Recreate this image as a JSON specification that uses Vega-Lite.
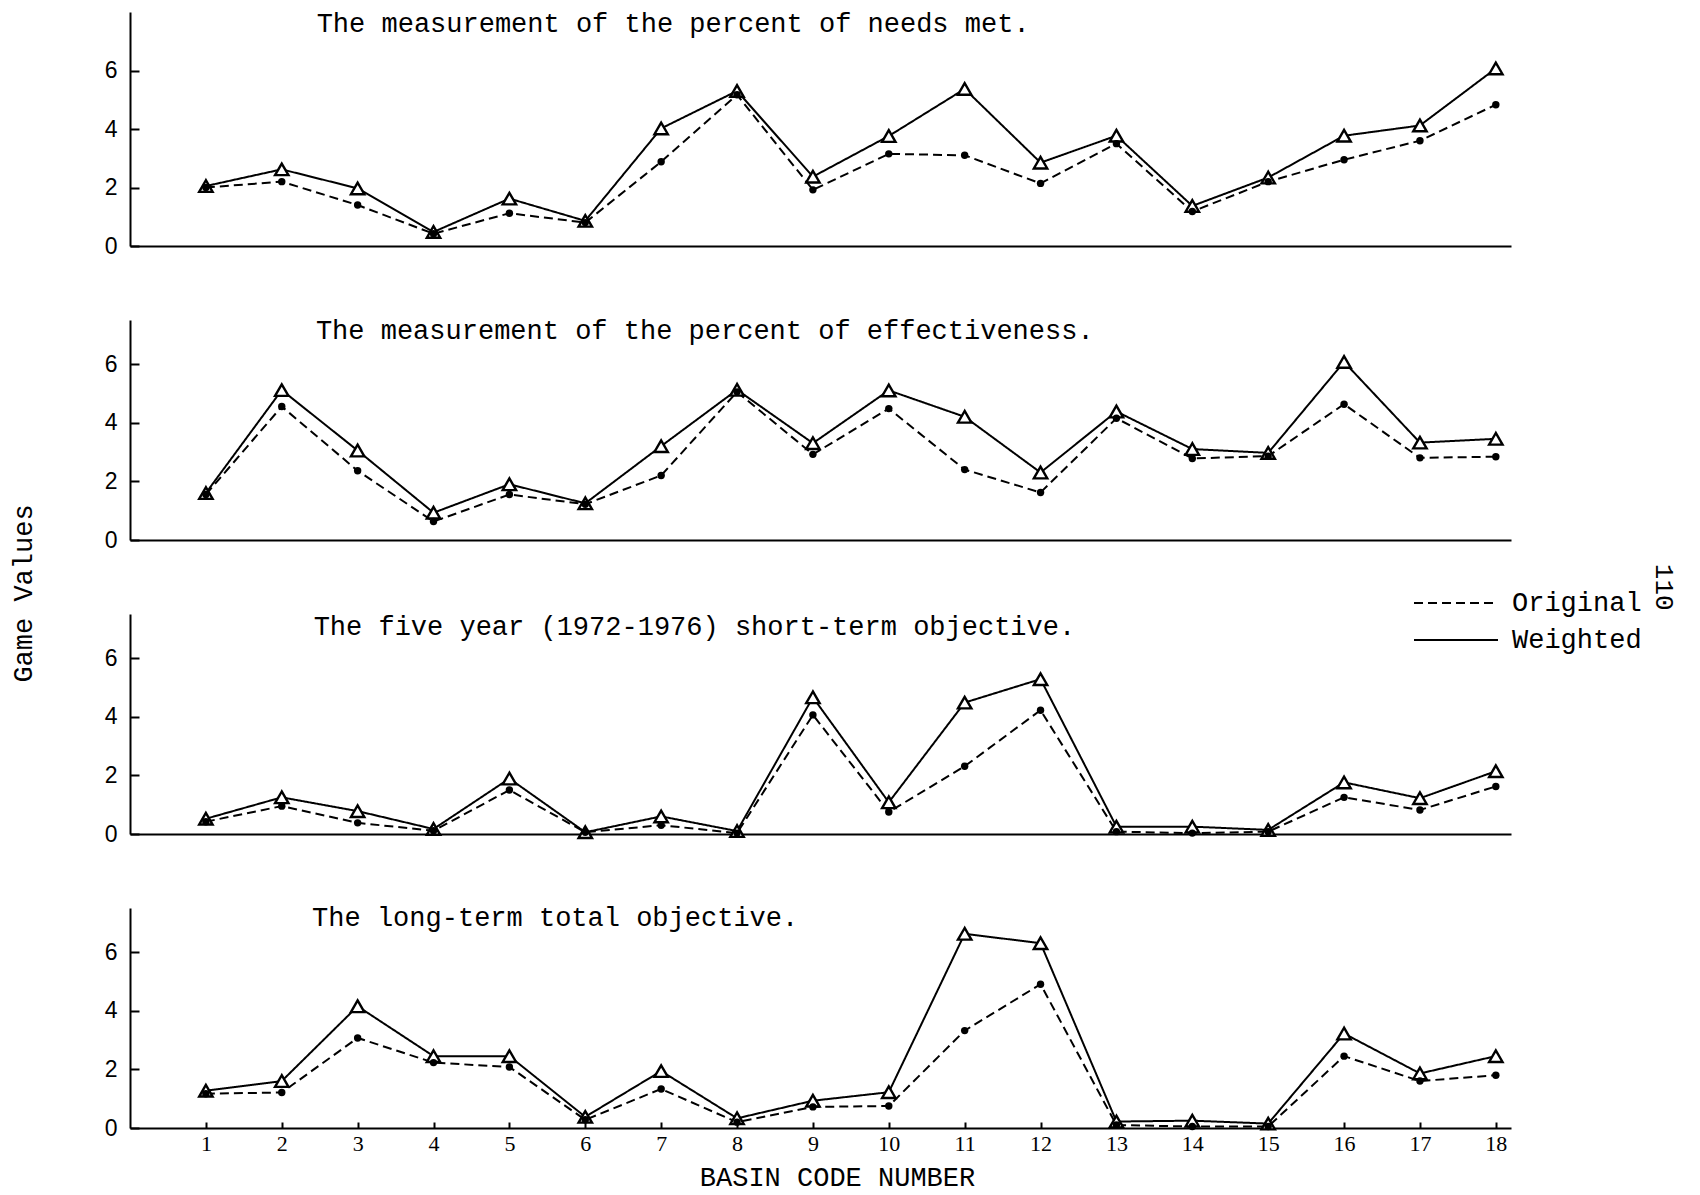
{
  "$schema": "https://vega.github.io/schema/vega-lite/v6.json",
  "background": "white",
  "padding": {"left": 9, "top": 10, "right": 5, "bottom": 5},
  "bounds": "flush",
  "spacing": 74,
  "title": {"text": "110", "orient": "right", "anchor": "middle", "font": "Liberation Mono", "fontSize": 26, "fontWeight": "normal", "color": "black", "offset": 9, "dx": -13},
  "config": {
    "view": {"stroke": null},
    "axis": {"domainColor": "black", "domainWidth": 2, "tickColor": "black", "tickWidth": 2, "labelColor": "black", "titleColor": "black", "grid": false},
    "line": {"strokeWidth": 2}
  },
  "resolve": {"scale": {"strokeDash": "independent"}, "legend": {"strokeDash": "independent"}},
  "datasets": {
    "headings": [
      {"panel": 1, "heading": "The measurement of the percent of needs met."},
      {"panel": 2, "heading": "The measurement of the percent of effectiveness."},
      {"panel": 3, "heading": "The five year (1972-1976) short-term objective."},
      {"panel": 4, "heading": "The long-term total objective."}
    ],
    "games": [
      {"panel":1,"basin":1,"series":"Weighted","value":2.05},{"panel":1,"basin":1,"series":"Original","value":2.0},
      {"panel":1,"basin":2,"series":"Weighted","value":2.62},{"panel":1,"basin":2,"series":"Original","value":2.2},
      {"panel":1,"basin":3,"series":"Weighted","value":1.97},{"panel":1,"basin":3,"series":"Original","value":1.4},
      {"panel":1,"basin":4,"series":"Weighted","value":0.48},{"panel":1,"basin":4,"series":"Original","value":0.42},
      {"panel":1,"basin":5,"series":"Weighted","value":1.62},{"panel":1,"basin":5,"series":"Original","value":1.12},
      {"panel":1,"basin":6,"series":"Weighted","value":0.86},{"panel":1,"basin":6,"series":"Original","value":0.8},
      {"panel":1,"basin":7,"series":"Weighted","value":4.02},{"panel":1,"basin":7,"series":"Original","value":2.88},
      {"panel":1,"basin":8,"series":"Weighted","value":5.3},{"panel":1,"basin":8,"series":"Original","value":5.17},
      {"panel":1,"basin":9,"series":"Weighted","value":2.37},{"panel":1,"basin":9,"series":"Original","value":1.92},
      {"panel":1,"basin":10,"series":"Weighted","value":3.76},{"panel":1,"basin":10,"series":"Original","value":3.15},
      {"panel":1,"basin":11,"series":"Weighted","value":5.37},{"panel":1,"basin":11,"series":"Original","value":3.1},
      {"panel":1,"basin":12,"series":"Weighted","value":2.85},{"panel":1,"basin":12,"series":"Original","value":2.14},
      {"panel":1,"basin":13,"series":"Weighted","value":3.77},{"panel":1,"basin":13,"series":"Original","value":3.5},
      {"panel":1,"basin":14,"series":"Weighted","value":1.37},{"panel":1,"basin":14,"series":"Original","value":1.18},
      {"panel":1,"basin":15,"series":"Weighted","value":2.34},{"panel":1,"basin":15,"series":"Original","value":2.2},
      {"panel":1,"basin":16,"series":"Weighted","value":3.77},{"panel":1,"basin":16,"series":"Original","value":2.95},
      {"panel":1,"basin":17,"series":"Weighted","value":4.12},{"panel":1,"basin":17,"series":"Original","value":3.6},
      {"panel":1,"basin":18,"series":"Weighted","value":6.07},{"panel":1,"basin":18,"series":"Original","value":4.83},

      {"panel":2,"basin":1,"series":"Weighted","value":1.6},{"panel":2,"basin":1,"series":"Original","value":1.55},
      {"panel":2,"basin":2,"series":"Weighted","value":5.11},{"panel":2,"basin":2,"series":"Original","value":4.55},
      {"panel":2,"basin":3,"series":"Weighted","value":3.05},{"panel":2,"basin":3,"series":"Original","value":2.36},
      {"panel":2,"basin":4,"series":"Weighted","value":0.93},{"panel":2,"basin":4,"series":"Original","value":0.63},
      {"panel":2,"basin":5,"series":"Weighted","value":1.9},{"panel":2,"basin":5,"series":"Original","value":1.55},
      {"panel":2,"basin":6,"series":"Weighted","value":1.25},{"panel":2,"basin":6,"series":"Original","value":1.22},
      {"panel":2,"basin":7,"series":"Weighted","value":3.2},{"panel":2,"basin":7,"series":"Original","value":2.2},
      {"panel":2,"basin":8,"series":"Weighted","value":5.12},{"panel":2,"basin":8,"series":"Original","value":5.05},
      {"panel":2,"basin":9,"series":"Weighted","value":3.3},{"panel":2,"basin":9,"series":"Original","value":2.92},
      {"panel":2,"basin":10,"series":"Weighted","value":5.1},{"panel":2,"basin":10,"series":"Original","value":4.48},
      {"panel":2,"basin":11,"series":"Weighted","value":4.2},{"panel":2,"basin":11,"series":"Original","value":2.4},
      {"panel":2,"basin":12,"series":"Weighted","value":2.3},{"panel":2,"basin":12,"series":"Original","value":1.62},
      {"panel":2,"basin":13,"series":"Weighted","value":4.38},{"panel":2,"basin":13,"series":"Original","value":4.15},
      {"panel":2,"basin":14,"series":"Weighted","value":3.1},{"panel":2,"basin":14,"series":"Original","value":2.78},
      {"panel":2,"basin":15,"series":"Weighted","value":2.97},{"panel":2,"basin":15,"series":"Original","value":2.86},
      {"panel":2,"basin":16,"series":"Weighted","value":6.07},{"panel":2,"basin":16,"series":"Original","value":4.63},
      {"panel":2,"basin":17,"series":"Weighted","value":3.32},{"panel":2,"basin":17,"series":"Original","value":2.8},
      {"panel":2,"basin":18,"series":"Weighted","value":3.45},{"panel":2,"basin":18,"series":"Original","value":2.84},

      {"panel":3,"basin":1,"series":"Weighted","value":0.52},{"panel":3,"basin":1,"series":"Original","value":0.42},
      {"panel":3,"basin":2,"series":"Weighted","value":1.25},{"panel":3,"basin":2,"series":"Original","value":0.95},
      {"panel":3,"basin":3,"series":"Weighted","value":0.78},{"panel":3,"basin":3,"series":"Original","value":0.38},
      {"panel":3,"basin":4,"series":"Weighted","value":0.17},{"panel":3,"basin":4,"series":"Original","value":0.11},
      {"panel":3,"basin":5,"series":"Weighted","value":1.89},{"panel":3,"basin":5,"series":"Original","value":1.5},
      {"panel":3,"basin":6,"series":"Weighted","value":0.06},{"panel":3,"basin":6,"series":"Original","value":0.06},
      {"panel":3,"basin":7,"series":"Weighted","value":0.6},{"panel":3,"basin":7,"series":"Original","value":0.3},
      {"panel":3,"basin":8,"series":"Weighted","value":0.1},{"panel":3,"basin":8,"series":"Original","value":0.03},
      {"panel":3,"basin":9,"series":"Weighted","value":4.66},{"panel":3,"basin":9,"series":"Original","value":4.06},
      {"panel":3,"basin":10,"series":"Weighted","value":1.08},{"panel":3,"basin":10,"series":"Original","value":0.75},
      {"panel":3,"basin":11,"series":"Weighted","value":4.48},{"panel":3,"basin":11,"series":"Original","value":2.31},
      {"panel":3,"basin":12,"series":"Weighted","value":5.28},{"panel":3,"basin":12,"series":"Original","value":4.22},
      {"panel":3,"basin":13,"series":"Weighted","value":0.25},{"panel":3,"basin":13,"series":"Original","value":0.08},
      {"panel":3,"basin":14,"series":"Weighted","value":0.25},{"panel":3,"basin":14,"series":"Original","value":0.03},
      {"panel":3,"basin":15,"series":"Weighted","value":0.14},{"panel":3,"basin":15,"series":"Original","value":0.08},
      {"panel":3,"basin":16,"series":"Weighted","value":1.76},{"panel":3,"basin":16,"series":"Original","value":1.25},
      {"panel":3,"basin":17,"series":"Weighted","value":1.22},{"panel":3,"basin":17,"series":"Original","value":0.82},
      {"panel":3,"basin":18,"series":"Weighted","value":2.14},{"panel":3,"basin":18,"series":"Original","value":1.62},

      {"panel":4,"basin":1,"series":"Weighted","value":1.27},{"panel":4,"basin":1,"series":"Original","value":1.17},
      {"panel":4,"basin":2,"series":"Weighted","value":1.6},{"panel":4,"basin":2,"series":"Original","value":1.21},
      {"panel":4,"basin":3,"series":"Weighted","value":4.15},{"panel":4,"basin":3,"series":"Original","value":3.07},
      {"panel":4,"basin":4,"series":"Weighted","value":2.45},{"panel":4,"basin":4,"series":"Original","value":2.23},
      {"panel":4,"basin":5,"series":"Weighted","value":2.45},{"panel":4,"basin":5,"series":"Original","value":2.08},
      {"panel":4,"basin":6,"series":"Weighted","value":0.38},{"panel":4,"basin":6,"series":"Original","value":0.28},
      {"panel":4,"basin":7,"series":"Weighted","value":1.94},{"panel":4,"basin":7,"series":"Original","value":1.33},
      {"panel":4,"basin":8,"series":"Weighted","value":0.33},{"panel":4,"basin":8,"series":"Original","value":0.2},
      {"panel":4,"basin":9,"series":"Weighted","value":0.93},{"panel":4,"basin":9,"series":"Original","value":0.72},
      {"panel":4,"basin":10,"series":"Weighted","value":1.22},{"panel":4,"basin":10,"series":"Original","value":0.75},
      {"panel":4,"basin":11,"series":"Weighted","value":6.62},{"panel":4,"basin":11,"series":"Original","value":3.32},
      {"panel":4,"basin":12,"series":"Weighted","value":6.3},{"panel":4,"basin":12,"series":"Original","value":4.9},
      {"panel":4,"basin":13,"series":"Weighted","value":0.22},{"panel":4,"basin":13,"series":"Original","value":0.1},
      {"panel":4,"basin":14,"series":"Weighted","value":0.25},{"panel":4,"basin":14,"series":"Original","value":0.05},
      {"panel":4,"basin":15,"series":"Weighted","value":0.15},{"panel":4,"basin":15,"series":"Original","value":0.05},
      {"panel":4,"basin":16,"series":"Weighted","value":3.22},{"panel":4,"basin":16,"series":"Original","value":2.45},
      {"panel":4,"basin":17,"series":"Weighted","value":1.86},{"panel":4,"basin":17,"series":"Original","value":1.6},
      {"panel":4,"basin":18,"series":"Weighted","value":2.45},{"panel":4,"basin":18,"series":"Original","value":1.8}
    ]
  },
  "vconcat": [
    {
      "width": 1381, "height": 234,
      "layer": [
        {"data": {"name": "games"}, "transform": [{"filter": "datum.panel == 1"}], "mark": {"type": "line", "color": "black", "strokeWidth": 2},
         "encoding": {
          "x": {"field": "basin", "type": "quantitative", "scale": {"domain": [0, 18.2], "nice": false, "zero": false}, "axis": {"title": null, "labels": false, "ticks": false}},
          "y": {"field": "value", "type": "quantitative", "scale": {"domain": [0, 8], "nice": false}, "axis": {"title": null, "format": "d", "values": [0,1,2,3,4,5,6,7], "tickSize": -9, "labelExpr": "datum.value % 2 == 0 ? datum.label : ''", "labelFont": "Liberation Sans", "labelFontSize": 23, "labelPadding": 22}},
          "strokeDash": {"field": "series", "type": "nominal", "scale": {"domain": ["Original", "Weighted"], "range": [[9, 5], [1, 0]]}, "legend": null}}},
        {"data": {"name": "games"}, "transform": [{"filter": "datum.panel == 1 && datum.series == 'Weighted'"}], "mark": {"type": "point", "shape": "triangle-up", "size": 180, "filled": true, "fill": "white", "stroke": "black", "strokeWidth": 2.4, "opacity": 1},
         "encoding": {"x": {"field": "basin", "type": "quantitative"}, "y": {"field": "value", "type": "quantitative"}}},
        {"data": {"name": "games"}, "transform": [{"filter": "datum.panel == 1 && datum.series == 'Original'"}], "mark": {"type": "point", "shape": "circle", "size": 55, "filled": true, "color": "black", "opacity": 1},
         "encoding": {"x": {"field": "basin", "type": "quantitative"}, "y": {"field": "value", "type": "quantitative"}}},
        {"data": {"name": "headings"}, "transform": [{"filter": "datum.panel == 1"}], "mark": {"type": "text", "align": "left", "baseline": "alphabetic", "font": "Liberation Mono", "fontSize": 27, "color": "black"},
         "encoding": {"text": {"field": "heading", "type": "nominal"}, "x": {"datum": 2.46, "type": "quantitative"}, "y": {"datum": 7.3, "type": "quantitative"}}}
      ]
    },
    {
      "width": 1381, "height": 220,
      "layer": [
        {"data": {"name": "games"}, "transform": [{"filter": "datum.panel == 2"}], "mark": {"type": "line", "color": "black", "strokeWidth": 2},
         "encoding": {
          "x": {"field": "basin", "type": "quantitative", "scale": {"domain": [0, 18.2], "nice": false, "zero": false}, "axis": {"title": null, "labels": false, "ticks": false}},
          "y": {"field": "value", "type": "quantitative", "scale": {"domain": [0, 7.5], "nice": false}, "axis": {"title": "Game Values", "titleFont": "Liberation Mono", "titleFontSize": 27, "titleFontWeight": "normal", "titleX": -107, "titleY": 273, "titleAngle": -90, "titleAlign": "center", "titleBaseline": "middle", "format": "d", "values": [0,1,2,3,4,5,6,7], "tickSize": -9, "labelExpr": "datum.value % 2 == 0 ? datum.label : ''", "labelFont": "Liberation Sans", "labelFontSize": 23, "labelPadding": 22}},
          "strokeDash": {"field": "series", "type": "nominal", "title": null, "scale": {"domain": ["Original", "Weighted"], "range": [[9, 5], [1, 0]]}, "legend": {"orient": "none", "legendX": 1311, "legendY": 268, "symbolType": "M-3,0H3", "symbolSize": 784, "symbolStrokeWidth": 2, "symbolStrokeColor": "black", "symbolFillColor": "transparent", "labelFont": "Liberation Mono", "labelFontSize": 27, "labelColor": "black", "labelOffset": 41, "rowPadding": 9}}}},
        {"data": {"name": "games"}, "transform": [{"filter": "datum.panel == 2 && datum.series == 'Weighted'"}], "mark": {"type": "point", "shape": "triangle-up", "size": 180, "filled": true, "fill": "white", "stroke": "black", "strokeWidth": 2.4, "opacity": 1},
         "encoding": {"x": {"field": "basin", "type": "quantitative"}, "y": {"field": "value", "type": "quantitative"}}},
        {"data": {"name": "games"}, "transform": [{"filter": "datum.panel == 2 && datum.series == 'Original'"}], "mark": {"type": "point", "shape": "circle", "size": 55, "filled": true, "color": "black", "opacity": 1},
         "encoding": {"x": {"field": "basin", "type": "quantitative"}, "y": {"field": "value", "type": "quantitative"}}},
        {"data": {"name": "headings"}, "transform": [{"filter": "datum.panel == 2"}], "mark": {"type": "text", "align": "left", "baseline": "alphabetic", "font": "Liberation Mono", "fontSize": 27, "color": "black"},
         "encoding": {"text": {"field": "heading", "type": "nominal"}, "x": {"datum": 2.45, "type": "quantitative"}, "y": {"datum": 6.86, "type": "quantitative"}}}
      ]
    },
    {
      "width": 1381, "height": 220,
      "layer": [
        {"data": {"name": "games"}, "transform": [{"filter": "datum.panel == 3"}], "mark": {"type": "line", "color": "black", "strokeWidth": 2},
         "encoding": {
          "x": {"field": "basin", "type": "quantitative", "scale": {"domain": [0, 18.2], "nice": false, "zero": false}, "axis": {"title": null, "labels": false, "ticks": false}},
          "y": {"field": "value", "type": "quantitative", "scale": {"domain": [0, 7.5], "nice": false}, "axis": {"title": null, "format": "d", "values": [0,1,2,3,4,5,6,7], "tickSize": -9, "labelExpr": "datum.value % 2 == 0 ? datum.label : ''", "labelFont": "Liberation Sans", "labelFontSize": 23, "labelPadding": 22}},
          "strokeDash": {"field": "series", "type": "nominal", "scale": {"domain": ["Original", "Weighted"], "range": [[9, 5], [1, 0]]}, "legend": null}}},
        {"data": {"name": "games"}, "transform": [{"filter": "datum.panel == 3 && datum.series == 'Weighted'"}], "mark": {"type": "point", "shape": "triangle-up", "size": 180, "filled": true, "fill": "white", "stroke": "black", "strokeWidth": 2.4, "opacity": 1},
         "encoding": {"x": {"field": "basin", "type": "quantitative"}, "y": {"field": "value", "type": "quantitative"}}},
        {"data": {"name": "games"}, "transform": [{"filter": "datum.panel == 3 && datum.series == 'Original'"}], "mark": {"type": "point", "shape": "circle", "size": 55, "filled": true, "color": "black", "opacity": 1},
         "encoding": {"x": {"field": "basin", "type": "quantitative"}, "y": {"field": "value", "type": "quantitative"}}},
        {"data": {"name": "headings"}, "transform": [{"filter": "datum.panel == 3"}], "mark": {"type": "text", "align": "left", "baseline": "alphabetic", "font": "Liberation Mono", "fontSize": 27, "color": "black"},
         "encoding": {"text": {"field": "heading", "type": "nominal"}, "x": {"datum": 2.42, "type": "quantitative"}, "y": {"datum": 6.78, "type": "quantitative"}}}
      ]
    },
    {
      "width": 1381, "height": 220,
      "layer": [
        {"data": {"name": "games"}, "transform": [{"filter": "datum.panel == 4"}], "mark": {"type": "line", "color": "black", "strokeWidth": 2},
         "encoding": {
          "x": {"field": "basin", "type": "quantitative", "scale": {"domain": [0, 18.2], "nice": false, "zero": false}, "axis": {"title": "BASIN CODE NUMBER", "titleFont": "Liberation Mono", "titleFontSize": 27, "titleFontWeight": "normal", "titleX": 707, "titleY": 49, "titleAlign": "center", "titleBaseline": "middle", "format": "d", "values": [1,2,3,4,5,6,7,8,9,10,11,12,13,14,15,16,17,18], "tickSize": -6, "labelFont": "Liberation Serif", "labelFontSize": 22, "labelPadding": 11, "labelFlush": false}},
          "y": {"field": "value", "type": "quantitative", "scale": {"domain": [0, 7.5], "nice": false}, "axis": {"title": null, "format": "d", "values": [0,1,2,3,4,5,6,7], "tickSize": -9, "labelExpr": "datum.value % 2 == 0 ? datum.label : ''", "labelFont": "Liberation Sans", "labelFontSize": 23, "labelPadding": 22}},
          "strokeDash": {"field": "series", "type": "nominal", "scale": {"domain": ["Original", "Weighted"], "range": [[9, 5], [1, 0]]}, "legend": null}}},
        {"data": {"name": "games"}, "transform": [{"filter": "datum.panel == 4 && datum.series == 'Weighted'"}], "mark": {"type": "point", "shape": "triangle-up", "size": 180, "filled": true, "fill": "white", "stroke": "black", "strokeWidth": 2.4, "opacity": 1},
         "encoding": {"x": {"field": "basin", "type": "quantitative"}, "y": {"field": "value", "type": "quantitative"}}},
        {"data": {"name": "games"}, "transform": [{"filter": "datum.panel == 4 && datum.series == 'Original'"}], "mark": {"type": "point", "shape": "circle", "size": 55, "filled": true, "color": "black", "opacity": 1},
         "encoding": {"x": {"field": "basin", "type": "quantitative"}, "y": {"field": "value", "type": "quantitative"}}},
        {"data": {"name": "headings"}, "transform": [{"filter": "datum.panel == 4"}], "mark": {"type": "text", "align": "left", "baseline": "alphabetic", "font": "Liberation Mono", "fontSize": 27, "color": "black"},
         "encoding": {"text": {"field": "heading", "type": "nominal"}, "x": {"datum": 2.4, "type": "quantitative"}, "y": {"datum": 6.87, "type": "quantitative"}}}
      ]
    }
  ]
}
